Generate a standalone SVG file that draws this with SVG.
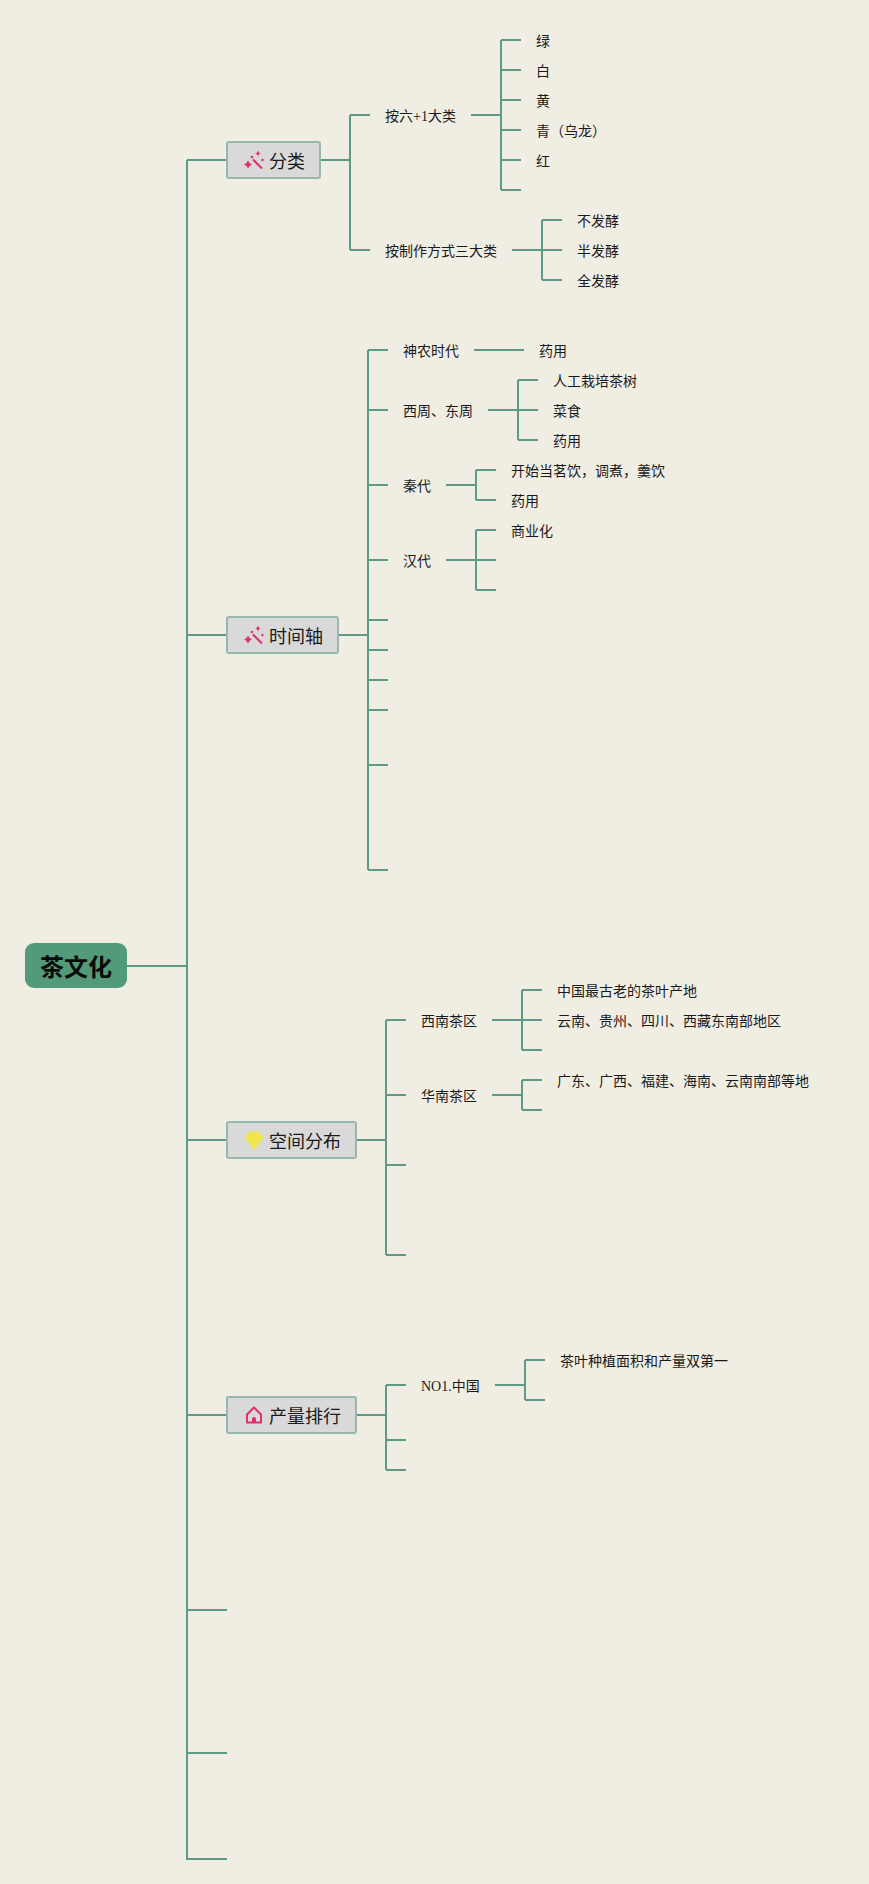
<svg xmlns="http://www.w3.org/2000/svg" width="869" height="1884" viewBox="0 0 869 1884">
<style>
.bg{fill:#f0ede3}
.c path{fill:none;stroke:#5f9988;stroke-width:2}
text{font-family:"Liberation Serif","Noto Sans CJK SC",serif;fill:#1a1a1a}
.t{font-size:14px}
.b{font-size:18px}
.box{fill:#d8d9d8;stroke:#97b8ae;stroke-width:2}
.root{fill:#529a7a;stroke:none}
.rt{font-family:"Noto Sans CJK SC",sans-serif;font-size:24px;font-weight:700;fill:#0a0a0a}
.pk{fill:#e4306a}
.pl{fill:none;stroke:#e4306a;stroke-width:2}
</style>
<defs>
<g id="wand"><path class="pl" stroke-width="2.500" d="M253 159.500L262 168.500"/><path class="pk" d="M248 160.500l1.500 2.500 2.500 1.500-2.500 1.500-1.500 2.500-1.500-2.500-2.500-1.500 2.500-1.500zM258 150.500l1 2.200 1.800 .8-1.800 .8-1 2.200-1-2.200-1.800-.8 1.800-.8z"/><circle class="pk" cx="252" cy="157" r="1.300"/><circle class="pk" cx="262.500" cy="160" r="1.200"/></g>
</defs>
<rect class="bg" width="869" height="1884"/>
<g id="connectors" class="c">
<path d="M127 966H187M187 160V1859M187 160H227M187 635H227M187 1140H227M187 1415H227M187 1610H227M187 1753H227M186 1859H227"/>
<path d="M320 160H350M350 115V250M350 115H370M350 250H370"/>
<path d="M471 115H501M501 40V190M501 40H521M501 70H521M501 100H521M501 130H521M501 160H521M501 190H521"/>
<path d="M512 250H542M542 220V280M542 220H562M542 250H562M542 280H562"/>
<path d="M338 635H368M368 350V870M368 350H388M368 410H388M368 485H388M368 560H388M368 620H388M368 650H388M368 680H388M368 710H388M368 765H388M368 870H388"/>
<path d="M474 350H524"/>
<path d="M488 410H518M518 380V440M518 380H538M518 410H538M518 440H538"/>
<path d="M446 485H476M476 470V500M476 470H496M476 500H496"/>
<path d="M446 560H476M476 530V590M476 530H496M476 560H496M476 590H496"/>
<path d="M356 1140H386M386 1020V1255M386 1020H406M386 1095H406M386 1165H406M386 1255H406"/>
<path d="M492 1020H522M522 990V1050M522 990H542M522 1020H542M522 1050H542"/>
<path d="M492 1095H522M522 1080V1110M522 1080H542M522 1110H542"/>
<path d="M356 1415H386M386 1385V1470M386 1385H406M386 1440H406M386 1470H406"/>
<path d="M495 1385H525M525 1360V1400M525 1360H545M525 1400H545"/>
</g>
<g id="root"><rect class="root" x="25" y="943" width="102" height="45" rx="9"/><text class="rt" x="40" y="976">茶文化</text></g>
<g id="n-fenlei"><rect class="box" x="227" y="142" width="93" height="36" rx="2"/><use href="#wand"/><text class="b" x="269" y="168">分类</text></g>
<g id="n-shijian"><rect class="box" x="227" y="617" width="111" height="36" rx="2"/><use href="#wand" y="475"/><text class="b" x="269" y="643">时间轴</text></g>
<g id="n-kongjian"><rect class="box" x="227" y="1122" width="129" height="36" rx="2"/><path d="M249 1131.500H259L263.500 1137.500L254 1150L244.500 1137.500Z" fill="#f0e54f"/><text class="b" x="269" y="1148">空间分布</text></g>
<g id="n-chanliang"><rect class="box" x="227" y="1397" width="129" height="36" rx="2"/><path class="pl" d="M247 1414.500L254 1407.500L261 1414.500V1422.500H247Z" stroke-linejoin="round"/><path class="pk" d="M252 1423V1419a2 2 0 0 1 4 0V1423Z"/><text class="b" x="269" y="1423">产量排行</text></g>
<g id="n1"><text class="t" x="385" y="121">按六+1大类</text></g>
<g id="n2"><text class="t" x="536" y="46">绿</text></g>
<g id="n3"><text class="t" x="536" y="76">白</text></g>
<g id="n4"><text class="t" x="536" y="106">黄</text></g>
<g id="n5"><text class="t" x="536" y="136">青（乌龙）</text></g>
<g id="n6"><text class="t" x="536" y="166">红</text></g>
<g id="n7"><text class="t" x="385" y="256">按制作方式三大类</text></g>
<g id="n8"><text class="t" x="577" y="226">不发酵</text></g>
<g id="n9"><text class="t" x="577" y="256">半发酵</text></g>
<g id="n10"><text class="t" x="577" y="286">全发酵</text></g>
<g id="n11"><text class="t" x="403" y="356">神农时代</text></g>
<g id="n12"><text class="t" x="539" y="356">药用</text></g>
<g id="n13"><text class="t" x="403" y="416">西周、东周</text></g>
<g id="n14"><text class="t" x="553" y="386">人工栽培茶树</text></g>
<g id="n15"><text class="t" x="553" y="416">菜食</text></g>
<g id="n16"><text class="t" x="553" y="446">药用</text></g>
<g id="n17"><text class="t" x="403" y="491">秦代</text></g>
<g id="n18"><text class="t" x="511" y="476">开始当茗饮，调煮，羹饮</text></g>
<g id="n19"><text class="t" x="511" y="506">药用</text></g>
<g id="n20"><text class="t" x="403" y="566">汉代</text></g>
<g id="n21"><text class="t" x="511" y="536">商业化</text></g>
<g id="n22"><text class="t" x="421" y="1026">西南茶区</text></g>
<g id="n23"><text class="t" x="557" y="996">中国最古老的茶叶产地</text></g>
<g id="n24"><text class="t" x="557" y="1026">云南、贵州、四川、西藏东南部地区</text></g>
<g id="n25"><text class="t" x="421" y="1101">华南茶区</text></g>
<g id="n26"><text class="t" x="557" y="1086">广东、广西、福建、海南、云南南部等地</text></g>
<g id="n27"><text class="t" x="421" y="1391">NO1.中国</text></g>
<g id="n28"><text class="t" x="560" y="1366">茶叶种植面积和产量双第一</text></g>
</svg>
